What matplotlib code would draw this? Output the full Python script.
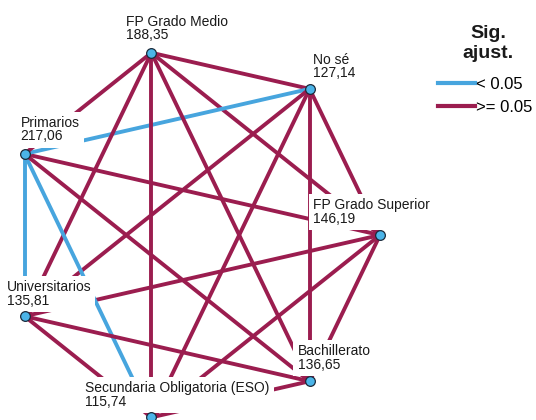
import numpy as np
import matplotlib
matplotlib.use("Agg")
import matplotlib.pyplot as plt
from matplotlib.lines import Line2D

plt.rcParams['font.family'] = ['Liberation Sans', 'DejaVu Sans']

# Mean ranks per group (order = position around the circle, counter-clockwise from the right)
groups = ['FP Grado Superior', 'No sé', 'FP Grado Medio', 'Primarios',
          'Universitarios', 'Secundaria Obligatoria (ESO)', 'Bachillerato']
mean_ranks = [146.19, 127.14, 188.35, 217.06, 135.81, 115.74, 136.65]

# pairs with adjusted sig. < 0.05
sig_pairs = [('Primarios', 'No sé'),
             ('Primarios', 'Universitarios'),
             ('Primarios', 'Secundaria Obligatoria (ESO)')]

legend_title = 'Sig.\najust.'
legend_labels = ['< 0.05', '>= 0.05']

col_sig = '#47A5DE'
col_ns = '#9B1D4F'

# label placement (pixels from node: left edge, top edge)
label_offsets = {
    'FP Grado Superior': (-67, 37),
    'No sé': (3, 36),
    'FP Grado Medio': (-25, 38),
    'Primarios': (-4, 38),
    'Universitarios': (-18, 36),
    'Secundaria Obligatoria (ESO)': (-66, 36),
    'Bachillerato': (-12, 37),
}

n = len(groups)
ang = 2 * np.pi * np.arange(n) / n
pos = {g: (np.cos(a), np.sin(a)) for g, a in zip(groups, ang)}

fig = plt.figure(figsize=(5.36, 4.2), dpi=100)
ax = fig.add_axes([0, 0, 1, 1])
ax.set_xlim(-1.032, 1.834)
ax.set_ylim(-0.989, 1.257)
ax.axis('off')

sig_set = set(frozenset(p) for p in sig_pairs)
for i in range(n):
    for j in range(i + 1, n):
        a, b = groups[i], groups[j]
        c = col_sig if frozenset((a, b)) in sig_set else col_ns
        ax.plot([pos[a][0], pos[b][0]], [pos[a][1], pos[b][1]],
                color=c, lw=2.8, solid_capstyle='butt', zorder=1)

for g, r in zip(groups, mean_ranks):
    txt = g + '\n' + f'{r:.2f}'.replace('.', ',')
    ax.annotate(txt, xy=pos[g], xytext=label_offsets[g], textcoords='offset pixels',
                ha='left', va='top', fontsize=10, color='#1a1a1a', linespacing=0.95,
                bbox=dict(facecolor='white', edgecolor='none', pad=3), zorder=2)

xs = [pos[g][0] for g in groups]
ys = [pos[g][1] for g in groups]
ax.plot(xs, ys, 'o', ms=7, mfc='#4BB4E8', mec='#1B2A3A', mew=0.9, ls='none', zorder=3,
        clip_on=False)

# legend: title as separate text so spacing can match
fig.text(488 / 536, 1 - 25 / 420, legend_title, ha='center', va='top',
         fontsize=14, fontweight='bold', linespacing=1.2, color='#1a1a1a')
handles = [Line2D([0], [0], color=col_sig, lw=3),
           Line2D([0], [0], color=col_ns, lw=3)]
ax.legend(handles, legend_labels, loc='upper left',
          bbox_to_anchor=(438 / 536, 1 - 77 / 420), frameon=False,
          fontsize=12, handlelength=2.2, handletextpad=0.1,
          labelspacing=0.45, borderpad=0, borderaxespad=0)

fig.savefig('out.png', dpi=100)
